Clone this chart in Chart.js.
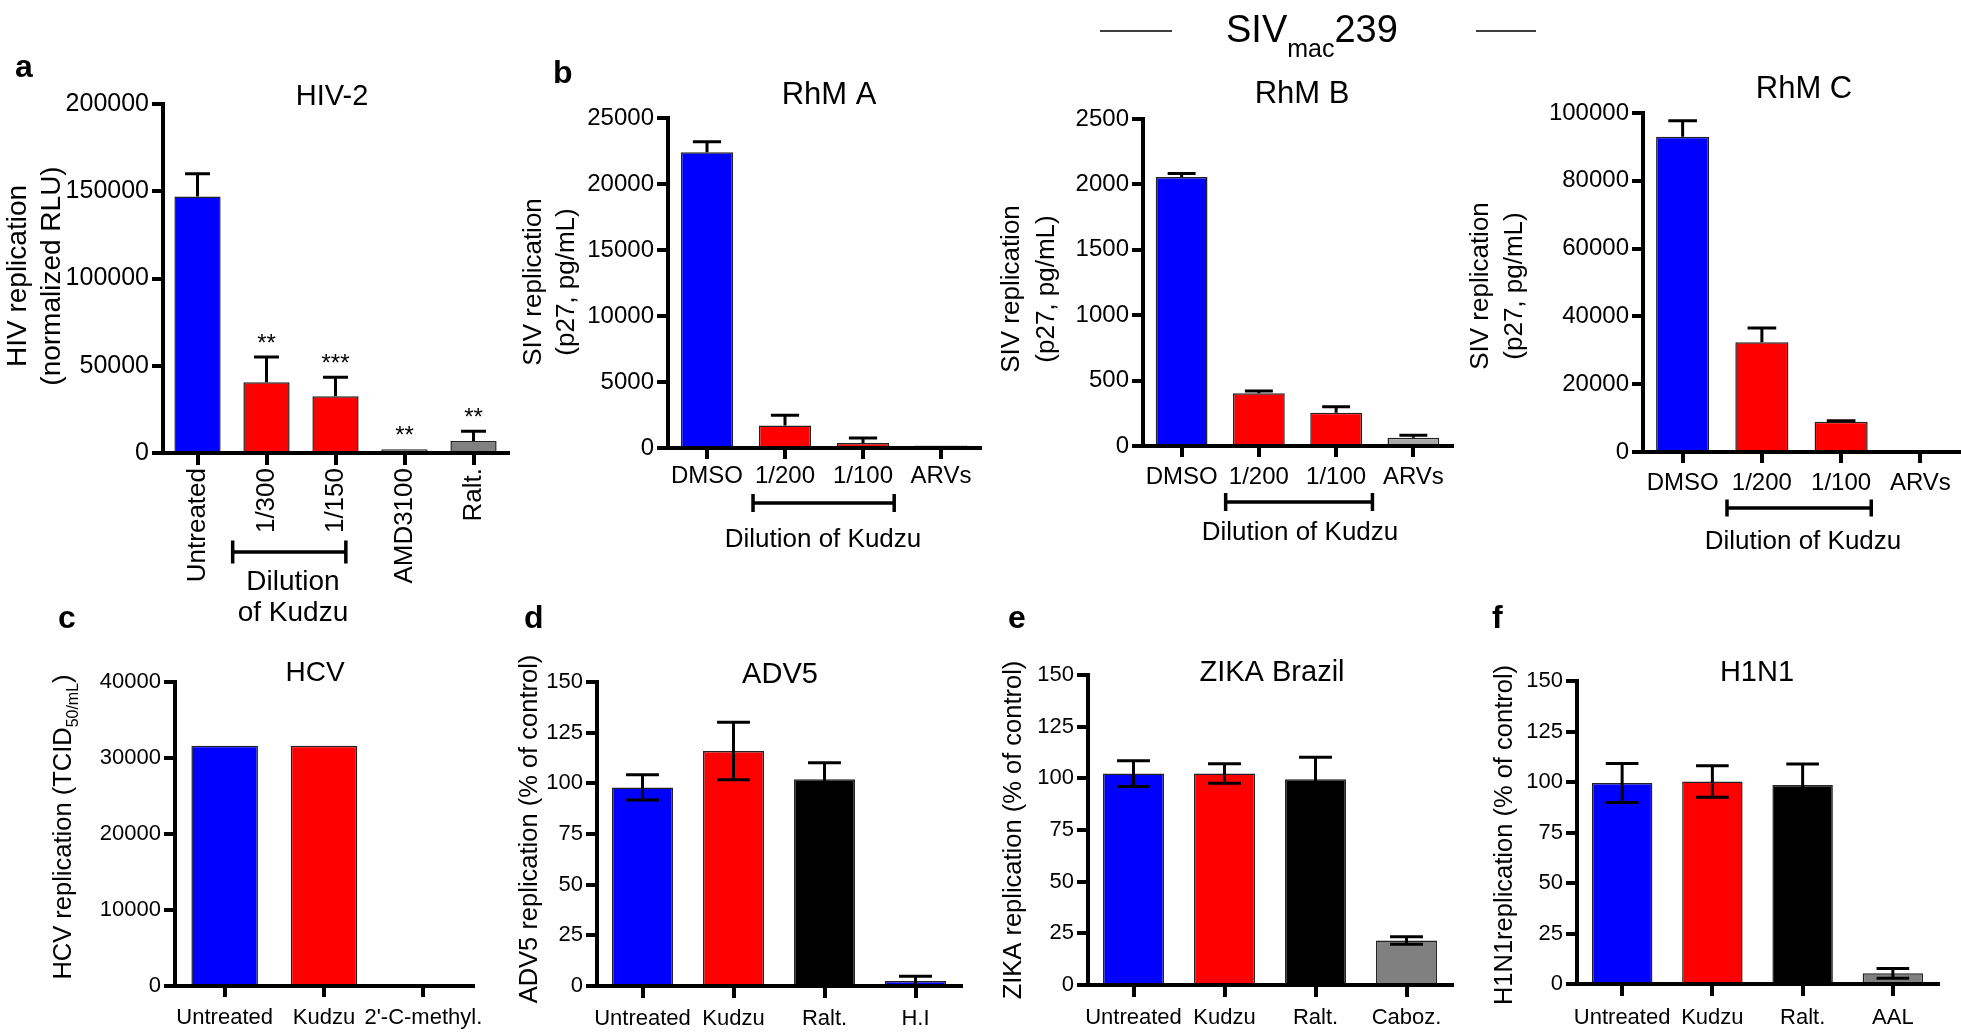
<!DOCTYPE html>
<html>
<head>
<meta charset="utf-8">
<script src="https://cdn.jsdelivr.net/npm/chart.js@4.4.1/dist/chart.umd.min.js"></script>
<style>
  html, body { margin: 0; padding: 0; background: #fff; }
  #fig { position: relative; width: 1961px; height: 1032px; overflow: hidden; background: #fff; }
  #fig canvas { position: absolute; left: 0; top: 0; }
</style>
</head>
<body>
<div id="fig"></div>
<script>
// ---- data ----
// a: HIV-2
const hivLabels = ['Untreated', '1/300', '1/150', 'AMD3100', 'Ralt.'];
const hivValues = [147000, 40500, 32500, 2200, 6900];
const hivErrors = [13000, 14500, 10900, 0, 5500];
const hivStars = ['', '**', '***', '**', '**'];
const hivRange = [0, 200000, 50000];

// b: SIVmac239 in three macaques
const rhmLabels = ['DMSO', '1/200', '1/100', 'ARVs'];
const rhmAValues = [22400, 1700, 380, 180];
const rhmAErrors = [810, 780, 380, 0];
const rhmARange = [0, 25000, 5000];
const rhmBValues = [2056, 403, 255, 64];
const rhmBErrors = [28, 18, 46, 18];
const rhmBRange = [0, 2500, 500];
const rhmCValues = [93000, 32400, 8900, 0];
const rhmCErrors = [4700, 4200, 300, 0];
const rhmCRange = [0, 100000, 20000];

// c: HCV
const hcvLabels = ['Untreated', 'Kudzu', "2'-C-methyl."];
const hcvValues = [31600, 31600, 0];
const hcvRange = [0, 40000, 10000];

// d: ADV5
const adv5Labels = ['Untreated', 'Kudzu', 'Ralt.', 'H.I'];
const adv5Values = [98, 116, 102, 2.5];
const adv5Errors = [6.2, 14.2, 8.2, 2.3];

// e: ZIKA Brazil
const zikaLabels = ['Untreated', 'Kudzu', 'Ralt.', 'Caboz.'];
const zikaValues = [102.3, 102.3, 99.5, 21.5];
const zikaErrors = [6.2, 4.7, 10.7, 1.8];

// f: H1N1
const h1n1Labels = ['Untreated', 'Kudzu', 'Ralt.', 'AAL'];
const h1n1Values = [99.5, 100.3, 98.5, 5.3];
const h1n1Errors = [9.7, 7.8, 10.4, 2.4];

const pctRange = [0, 150, 25];

// ---- styles ----
const W = 1961, H = 1032;
const FONT = '"Liberation Sans", Arial, Helvetica, sans-serif';
const BLUE = '#0000ff', RED = '#ff0000', BLACK = '#000000', GREY = '#808080', LIGHT = '#a9a9a9';
Chart.defaults.font.family = FONT;
Chart.defaults.color = '#000';

function font(size, bold) {
    return (bold ? 'bold ' : '') + size + 'px ' + FONT;
}

// rotated y axis title, parts = [[text, size, dy]]
function rotatedText(ctx, x, y, parts) {
    ctx.save();
    ctx.translate(x, y);
    ctx.rotate(-Math.PI / 2);
    ctx.textAlign = 'left';
    ctx.textBaseline = 'alphabetic';
    let total = 0;
    parts.forEach(p => { ctx.font = font(p[1]); total += ctx.measureText(p[0]).width; });
    let cx = -total / 2;
    const base = parts[0][1] * 0.35;
    parts.forEach(p => {
        ctx.font = font(p[1]);
        ctx.fillText(p[0], cx, base + (p[2] || 0));
        cx += ctx.measureText(p[0]).width;
    });
    ctx.restore();
}

function decor(p) {
    return {
        id: 'decor',
        afterDatasetsDraw(chart) {
            if (!p.errors) return;
            const ctx = chart.ctx;
            const ys = chart.scales.y;
            const meta = chart.getDatasetMeta(0);
            ctx.save();
            ctx.strokeStyle = '#000';
            ctx.lineWidth = 3;
            p.errors.forEach((e, i) => {
                if (!e) return;
                const bar = meta.data[i];
                const v = p.values[i];
                const top = ys.getPixelForValue(v + e);
                const low = ys.getPixelForValue(p.twoSided ? Math.max(v - e, 0) : v);
                const half = bar.width * 0.27;
                ctx.beginPath();
                ctx.moveTo(bar.x, low);
                ctx.lineTo(bar.x, top);
                ctx.moveTo(bar.x - half, top);
                ctx.lineTo(bar.x + half, top);
                if (p.twoSided) {
                    ctx.moveTo(bar.x - half, low);
                    ctx.lineTo(bar.x + half, low);
                }
                ctx.stroke();
            });
            ctx.restore();
        },
        afterDraw(chart) {
            const ctx = chart.ctx;
            const xs = chart.scales.x, ys = chart.scales.y;
            const meta = chart.getDatasetMeta(0);
            ctx.save();
            ctx.fillStyle = '#000';
            ctx.strokeStyle = '#000';

            // panel letter
            ctx.font = font(32, true);
            ctx.textAlign = 'left';
            ctx.textBaseline = 'alphabetic';
            ctx.fillText(p.letter, p.letterPos[0], p.letterPos[1]);

            // title
            ctx.font = font(p.titleSize);
            ctx.textAlign = 'center';
            ctx.fillText(p.title, p.titlePos[0], p.titlePos[1]);

            // y axis title
            p.yTitle.forEach(t => rotatedText(ctx, t.x, p.yTitleY, t.parts));

            // significance stars
            if (p.stars) {
                ctx.font = font(24);
                ctx.textAlign = 'center';
                ctx.textBaseline = 'middle';
                p.stars.forEach((s, i) => {
                    if (!s) return;
                    const top = ys.getPixelForValue(p.values[i] + (p.errors[i] || 0));
                    ctx.fillText(s, meta.data[i].x, top - 13);
                });
            }

            // dilution bracket
            if (p.bracket) {
                const b = p.bracket;
                const bin = xs.width / p.labels.length;
                const x1 = xs.getPixelForValue(b.from) - b.extL * bin;
                const x2 = xs.getPixelForValue(b.to) + b.extR * bin;
                ctx.lineWidth = 3.5;
                ctx.beginPath();
                ctx.moveTo(x1, b.y); ctx.lineTo(x2, b.y);
                ctx.moveTo(x1, b.y - b.cap); ctx.lineTo(x1, b.y + b.cap);
                ctx.moveTo(x2, b.y - b.cap); ctx.lineTo(x2, b.y + b.cap);
                ctx.stroke();
                ctx.font = font(b.size);
                ctx.textAlign = 'center';
                ctx.textBaseline = 'alphabetic';
                b.lines.forEach(l => ctx.fillText(l[0], b.textX, l[1]));
            }

            // SIVmac239 header over the three macaque panels
            if (p.header) {
                ctx.lineWidth = 1.5;
                ctx.beginPath();
                ctx.moveTo(1100, 31); ctx.lineTo(1172, 31);
                ctx.moveTo(1476, 31); ctx.lineTo(1536, 31);
                ctx.stroke();
                ctx.textAlign = 'left';
                let x = 1226;
                ctx.font = font(38);
                ctx.fillText('SIV', x, 42);
                x += ctx.measureText('SIV').width;
                ctx.font = font(25);
                ctx.fillText('mac', x, 57);
                x += ctx.measureText('mac').width;
                ctx.font = font(38);
                ctx.fillText('239', x, 42);
            }
            ctx.restore();
        }
    };
}

function addPanel(p) {
    const canvas = document.createElement('canvas');
    canvas.width = W;
    canvas.height = H;
    document.getElementById('fig').appendChild(canvas);
    const [yMin, yMax, yStep] = p.yRange;
    const [L, T, R, B] = p.area;
    // x axis box must hold the tick labels (they are clipped to it)
    const xh = Math.min(150, H - B);
    return new Chart(canvas, {
        type: 'bar',
        data: {
            labels: p.labels,
            datasets: [{
                data: p.values,
                backgroundColor: p.colors,
                borderColor: '#222',
                borderWidth: 1.5,
                categoryPercentage: 1,
                barPercentage: 0.67
            }]
        },
        options: {
            responsive: false,
            animation: false,
            events: [],
            layout: { padding: { left: L - 100, top: T, right: W - R, bottom: H - B - xh } },
            plugins: { legend: { display: false }, tooltip: { enabled: false } },
            scales: {
                x: {
                    z: 1,
                    grid: { offset: false, drawOnChartArea: false, tickLength: p.tickLen, lineWidth: 4, tickWidth: 4, color: '#000', tickColor: '#000' },
                    border: { width: 4, color: '#000' },
                    ticks: {
                        font: { size: p.xFont }, color: '#000', padding: p.xPad, autoSkip: false,
                        maxRotation: p.xRot || 0, minRotation: p.xRot || 0
                    },
                    afterFit: s => { s.height = xh; }
                },
                y: {
                    z: 1,
                    min: yMin,
                    max: yMax,
                    grid: { drawOnChartArea: false, tickLength: 11, lineWidth: 4, tickWidth: 4, color: '#000', tickColor: '#000' },
                    border: { width: 4, color: '#000' },
                    ticks: { stepSize: yStep, font: { size: p.tickFont }, color: '#000', padding: 3, callback: v => String(v) },
                    afterFit: s => { s.width = 100; }
                }
            }
        },
        plugins: [decor(p)]
    });
}

// a
addPanel({
    letter: 'a', letterPos: [15, 77],
    area: [163, 104, 508, 453],
    labels: hivLabels, values: hivValues, errors: hivErrors, stars: hivStars,
    colors: [BLUE, RED, RED, GREY, GREY], yRange: hivRange,
    tickFont: 25, xFont: 26, xRot: 90, xPad: 3, tickLen: 12,
    title: 'HIV-2', titleSize: 29, titlePos: [332, 105],
    yTitle: [{ x: 16, parts: [['HIV replication', 28]] }, { x: 50, parts: [['(normalized RLU)', 28]] }],
    yTitleY: 276,
    bracket: { from: 1, to: 2, extL: 0.49, extR: 0.15, y: 552, cap: 11.5, size: 28, textX: 293,
               lines: [['Dilution', 590], ['of Kudzu', 621]] }
});

// b: RhM A
addPanel({
    letter: 'b', letterPos: [553, 83],
    area: [668, 118, 980, 448],
    labels: rhmLabels, values: rhmAValues, errors: rhmAErrors,
    colors: [BLUE, RED, RED, LIGHT], yRange: rhmARange,
    tickFont: 24, xFont: 24, xPad: 3, tickLen: 11,
    title: 'RhM A', titleSize: 31, titlePos: [829, 104],
    yTitle: [{ x: 532, parts: [['SIV replication', 26]] }, { x: 565, parts: [['(p27, pg/mL)', 26]] }],
    yTitleY: 282,
    bracket: { from: 1, to: 2, extL: 0.41, extR: 0.40, y: 503, cap: 9, size: 26, textX: 823,
               lines: [['Dilution of Kudzu', 547]] }
});

// b: RhM B
addPanel({
    letter: '', letterPos: [0, 0], header: true,
    area: [1143, 119, 1452, 446],
    labels: rhmLabels, values: rhmBValues, errors: rhmBErrors,
    colors: [BLUE, RED, RED, LIGHT], yRange: rhmBRange,
    tickFont: 24, xFont: 24, xPad: 6, tickLen: 11,
    title: 'RhM B', titleSize: 31, titlePos: [1302, 103],
    yTitle: [{ x: 1010, parts: [['SIV replication', 26]] }, { x: 1045, parts: [['(p27, pg/mL)', 26]] }],
    yTitleY: 289,
    bracket: { from: 1, to: 2, extL: 0.43, extR: 0.47, y: 502, cap: 9, size: 26, textX: 1300,
               lines: [['Dilution of Kudzu', 540]] }
});

// b: RhM C
addPanel({
    letter: '', letterPos: [0, 0],
    area: [1643, 113, 1960, 452],
    labels: rhmLabels, values: rhmCValues, errors: rhmCErrors,
    colors: [BLUE, RED, RED, LIGHT], yRange: rhmCRange,
    tickFont: 24, xFont: 24, xPad: 6, tickLen: 11,
    title: 'RhM C', titleSize: 31, titlePos: [1804, 98],
    yTitle: [{ x: 1479, parts: [['SIV replication', 26]] }, { x: 1513, parts: [['(p27, pg/mL)', 26]] }],
    yTitleY: 286,
    bracket: { from: 1, to: 2, extL: 0.44, extR: 0.38, y: 508, cap: 8.5, size: 26, textX: 1803,
               lines: [['Dilution of Kudzu', 549]] }
});

// c: HCV
addPanel({
    letter: 'c', letterPos: [58, 628],
    area: [175, 682, 473, 986],
    labels: hcvLabels, values: hcvValues,
    colors: [BLUE, RED, GREY], yRange: hcvRange,
    tickFont: 22, xFont: 22, xPad: 8, tickLen: 11,
    title: 'HCV', titleSize: 28, titlePos: [315, 681],
    yTitle: [{ x: 62, parts: [['HCV replication (TCID', 25.5], ['50/mL', 16, 7], [')', 25.5]] }],
    yTitleY: 827
});

// d: ADV5
addPanel({
    letter: 'd', letterPos: [524, 628],
    area: [597, 682, 961, 986],
    labels: adv5Labels, values: adv5Values, errors: adv5Errors, twoSided: true,
    colors: [BLUE, RED, BLACK, BLUE], yRange: pctRange,
    tickFont: 22, xFont: 22, xPad: 8, tickLen: 12,
    title: 'ADV5', titleSize: 29, titlePos: [780, 683],
    yTitle: [{ x: 528, parts: [['ADV5 replication (% of control)', 25.5]] }],
    yTitleY: 829
});

// e: ZIKA
addPanel({
    letter: 'e', letterPos: [1008, 628],
    area: [1088, 675, 1452, 985],
    labels: zikaLabels, values: zikaValues, errors: zikaErrors, twoSided: true,
    colors: [BLUE, RED, BLACK, GREY], yRange: pctRange,
    tickFont: 22, xFont: 22, xPad: 8, tickLen: 12,
    title: 'ZIKA Brazil', titleSize: 29, titlePos: [1272, 681],
    yTitle: [{ x: 1012, parts: [['ZIKA replication (% of control)', 25.5]] }],
    yTitleY: 830
});

// f: H1N1
addPanel({
    letter: 'f', letterPos: [1492, 628],
    area: [1577, 681, 1938, 984],
    labels: h1n1Labels, values: h1n1Values, errors: h1n1Errors, twoSided: true,
    colors: [BLUE, RED, BLACK, GREY], yRange: pctRange,
    tickFont: 22, xFont: 22, xPad: 9, tickLen: 12,
    title: 'H1N1', titleSize: 29, titlePos: [1757, 681],
    yTitle: [{ x: 1503, parts: [['H1N1replication (% of control)', 25.5]] }],
    yTitleY: 835
});
</script>
</body>
</html>
